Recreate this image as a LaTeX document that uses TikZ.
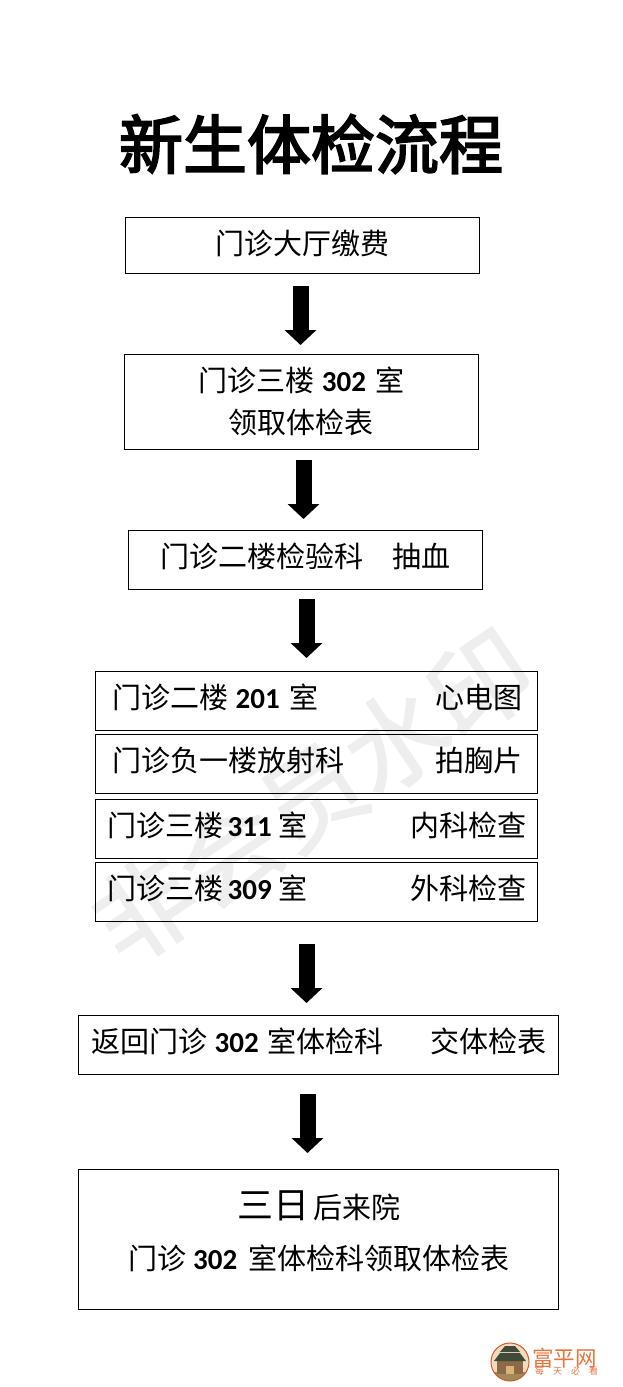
\documentclass[tikz,border=0pt]{standalone}
\usepackage{fontspec}
\setmainfont{Noto Sans CJK SC}
\newfontfamily\cjkheavy{Noto Sans CJK SC}[FakeBold=3]
\newfontfamily\cjkwm{Noto Sans CJK SC}[FakeBold=1.5]
\newfontfamily\latinb{Carlito Bold}
\usetikzlibrary{arrows.meta}
\newcommand{\nb}[1]{{\latinb #1}}
\definecolor{wm}{HTML}{EEEEEE}
\definecolor{logoor}{HTML}{E8743B}
\definecolor{logoring}{HTML}{D9562B}
\definecolor{logosky}{HTML}{F0DDC0}
\definecolor{logoground}{HTML}{A08A5A}
\definecolor{logowall}{HTML}{8C6A45}
\definecolor{logoroof}{HTML}{3F4A3A}
\definecolor{logodoor}{HTML}{D9B47A}
\tikzset{
  x=1pt,y=-1pt,
  stepbox/.style={draw=black,line width=1pt,inner sep=0pt,minimum width=#1,anchor=north west},
  bigarrow/.style={line width=16pt,-{Triangle[width=31pt,length=15pt]},black},
  lab/.style={inner sep=0pt,font=\fontsize{29}{29}\selectfont},
  labl/.style={lab,anchor=west},
  labr/.style={lab,anchor=east},
  labc/.style={lab,anchor=center},
  logotxt/.style={inner sep=0pt,text=logoor,anchor=west}
}
\begin{document}
\begin{tikzpicture}
\useasboundingbox (0,0) rectangle (623,1387);
\fill[white] (0,0) rectangle (623,1387);
% watermark
\node[rotate=34,text=wm,inner sep=0pt,font=\fontsize{101}{101}\selectfont\cjkwm] (wmark) at (312,796) {非会员水印};
% title
\node[inner sep=0pt,font=\fontsize{64}{64}\selectfont\cjkheavy] (title) at (311,144) {新生体检流程};
% boxes
\node[stepbox=354pt,minimum height=56pt] (b1) at (125,217) {};
\node[stepbox=354pt,minimum height=95pt] (b2) at (124,354) {};
\node[stepbox=354pt,minimum height=59pt] (b3) at (128,530) {};
\node[stepbox=442pt,minimum height=59pt] (b4) at (95,671) {};
\node[stepbox=442pt,minimum height=59pt] (b5) at (95,734) {};
\node[stepbox=442pt,minimum height=59pt] (b6) at (95,799) {};
\node[stepbox=442pt,minimum height=59pt] (b7) at (95,862) {};
\node[stepbox=480pt,minimum height=59pt] (b8) at (78,1015) {};
\node[stepbox=480pt,minimum height=140pt] (b9) at (78,1169) {};
% labels
\node[labc] (t1) at (302,243) {门诊大厅缴费};
\node[labc] (t2a) at (301.5,380) {门诊三楼\hspace{7.5pt}\nb{302}\hspace{9.5pt}室};
\node[labc] (t2b) at (301,422) {领取体检表};
\node[labc] (t3) at (305,556) {门诊二楼检验科\hspace{29pt}抽血};
\node[labl] (t4l) at (112,697) {门诊二楼\hspace{7.5pt}\nb{201}\hspace{9.5pt}室};
\node[labr] (t4r) at (523,697) {心电图};
\node[labl] (t5l) at (112,760) {门诊负一楼放射科};
\node[labr] (t5r) at (523,760) {拍胸片};
\node[labl] (t6l) at (107,825) {门诊三楼\hspace{4.5pt}\nb{311}\hspace{6.5pt}室};
\node[labr] (t6r) at (527,825) {内科检查};
\node[labl] (t7l) at (107,888) {门诊三楼\hspace{4.5pt}\nb{309}\hspace{6.5pt}室};
\node[labr] (t7r) at (527,888) {外科检查};
\node[labl] (t8l) at (91,1041) {返回门诊\hspace{7.5pt}\nb{302}\hspace{9pt}室体检科};
\node[labr] (t8r) at (547,1041) {交体检表};
\node[labl,font=\fontsize{36}{36}\selectfont] (t9a) at (237,1206) {三日};
\node[labl] (t9b) at (313,1207) {后来院};
\node[labc] (t9c) at (319,1258) {门诊\hspace{6.5pt}\nb{302}\hspace{11pt}室体检科领取体检表};
% arrows
\draw[bigarrow,shorten <=12pt,shorten >=9pt] ([xshift=-2pt]b1.south) -- ([xshift=-1pt]b2.north);
\draw[bigarrow,shorten <=10pt,shorten >=11pt] ([xshift=2pt]b2.south) -- ([xshift=-2pt]b3.north);
\draw[bigarrow,shorten <=9pt,shorten >=13pt] ([xshift=1pt]b3.south) -- ([xshift=-10pt]b4.north);
\draw[bigarrow,shorten <=22pt,shorten >=12pt] ([xshift=-10pt]b7.south) -- ([xshift=-12pt]b8.north);
\draw[bigarrow,shorten <=19pt,shorten >=16pt] ([xshift=-11pt]b8.south) -- ([xshift=-11pt]b9.north);
% logo
\fill[white] (510,1362) circle (19);
\begin{scope}
\clip (510,1362) circle (19);
\fill[logosky] (491,1343) rectangle (529,1381);
\fill[logoground] (491,1372) rectangle (529,1381);
\fill[logowall] (497,1360) rectangle (523,1374);
\fill[logoroof] (494,1361) -- (500,1353) -- (520,1353) -- (526,1361) -- cycle;
\fill[logoroof] (500,1352) -- (505,1346) -- (515,1346) -- (520,1352) -- cycle;
\fill[logodoor] (506,1366) rectangle (514,1374);
\end{scope}
\draw[draw=logoring,line width=1pt] (510,1362) circle (19);
\node[logotxt,font=\fontsize{21.5}{21.5}\selectfont] (logo1) at (532,1358) {富平网};
\node[logotxt,font=\fontsize{9}{9}\selectfont] (logo2) at (535,1371) {每\hspace{9pt}天\hspace{9pt}必\hspace{9pt}看};
\end{tikzpicture}
\end{document}
